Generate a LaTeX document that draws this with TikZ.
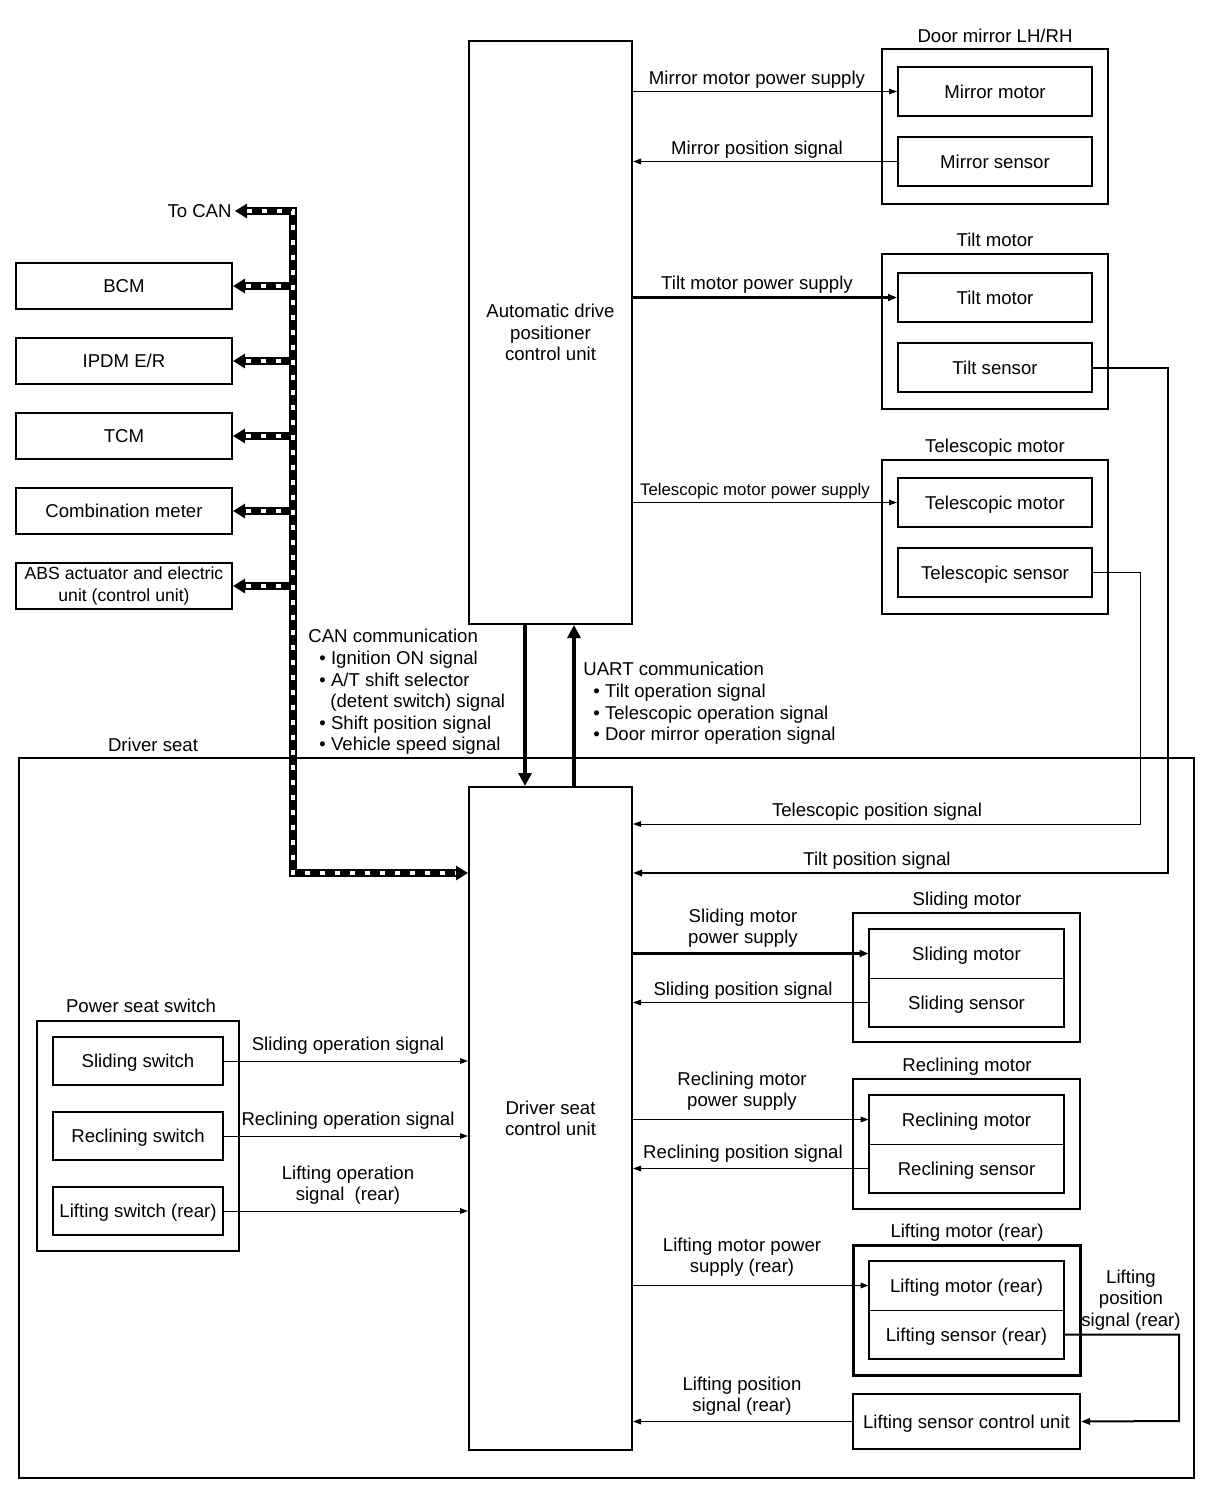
\documentclass[tikz,border=0pt]{standalone}
\usepackage{fontspec}
\setmainfont{Liberation Sans}
\usetikzlibrary{arrows.meta,fit,calc}
\begin{document}
\begin{tikzpicture}[x=0.5pt,y=-0.5pt,
  font=\fontsize{9.3}{10.8}\selectfont,
  box/.style={draw, line width=1pt, inner sep=0pt},
  cell/.style={inner sep=0pt},
  lbl/.style={inner sep=0pt, text height=6.7pt, text depth=0pt},
  mlbl/.style={inner sep=0pt, align=center},
  sig/.style={line width=0.5pt, -{Triangle[length=4pt,width=2.8pt]}},
  sigb/.style={line width=1pt, -{Triangle[length=4.5pt,width=3.2pt]}},
  pwr/.style={line width=1.5pt, -{Triangle[length=4.5pt,width=3.4pt]}},
  bold/.style={line width=2pt, -{Triangle[length=6.5pt,width=6.5pt]}},
  can/.style={line width=4pt, -{Triangle[length=6pt,width=7pt]},
    postaction={draw=white, line width=1.8pt, -, dash pattern=on 2.5pt off 5pt,
      shorten >=6pt, shorten <=6pt}},
  canb/.style={line width=4pt, {Triangle[length=6pt,width=7pt]}-{Triangle[length=6pt,width=7pt]},
    postaction={draw=white, line width=1.8pt, -, dash pattern=on 2.5pt off 5pt,
      shorten >=6pt, shorten <=6pt}}
]
\useasboundingbox (0,0) rectangle (1216,1510);

% ---------- upper control unit ----------
\node[box, fit={(469,41) (632,624)}, label={[mlbl]center:Automatic drive\\positioner\\control unit}] (adp) {};

% Door mirror
\node[box, fit={(882,49) (1108,204)}] (dmg) {};
\node[lbl] (dmgt) at (995,36) {Door mirror LH/RH};
\node[box, fit={(898,67) (1092,116)}, label={[lbl]center:Mirror motor}] (mm) {};
\node[box, fit={(898,137) (1092,186)}, label={[lbl]center:Mirror sensor}] (ms) {};

% Tilt
\node[box, fit={(882,254) (1108,409)}] (tmg) {};
\node[lbl] (tmgt) at (995,240) {Tilt motor};
\node[box, fit={(898,273) (1092,322)}, label={[lbl]center:Tilt motor}] (tm) {};
\node[box, fit={(898,343) (1092,392)}, label={[lbl]center:Tilt sensor}] (ts) {};

% Telescopic
\node[box, fit={(882,460) (1108,614)}] (teg) {};
\node[lbl] (tegt) at (995,446) {Telescopic motor};
\node[box, fit={(898,478) (1092,527)}, label={[lbl]center:Telescopic motor}] (tem) {};
\node[box, fit={(898,548) (1092,597)}, label={[lbl]center:Telescopic sensor}] (tes) {};

% CAN units
\node[box, fit={(16,263) (232,309)}, label={[lbl]center:BCM}] (bcm) {};
\node[box, fit={(16,338) (232,384)}, label={[lbl]center:IPDM E/R}] (ipdm) {};
\node[box, fit={(16,413) (232,459)}, label={[lbl]center:TCM}] (tcm) {};
\node[box, fit={(16,488) (232,534)}, label={[lbl]center:Combination meter}] (cmeter) {};
\node[box, fit={(16,563) (232,609)}, label={[mlbl, font=\fontsize{8.8}{10.6}\selectfont]center:ABS actuator and electric\\unit (control unit)}] (abs) {};
\node[lbl, anchor=east, inner xsep=1.5pt] (tocan) at (235,211) {To CAN};

% ---------- driver seat ----------
\draw[line width=0.6pt] (19,758) rectangle (1194,1478);
\node[lbl] (dslbl) at (153,745) {Driver seat};
\node[box, fit={(469,787) (632,1450)}, label={[mlbl]center:Driver seat\\control unit}] (dsc) {};

% Sliding motor
\node[box, fit={(853,913) (1080,1042)}] (smg) {};
\node[lbl] (smgt) at (967,899) {Sliding motor};
\node[cell, fit={(869,929) (1064,978)}, label={[lbl]center:Sliding motor}] (sm) {};
\node[cell, fit={(869,978) (1064,1027)}, label={[lbl]center:Sliding sensor}] (ss) {};
\draw[line width=1pt] (sm.north west) rectangle (ss.south east);
\draw[line width=0.5pt] (sm.south west) -- (sm.south east);

% Reclining motor
\node[box, fit={(853,1079) (1080,1209)}] (rmg) {};
\node[lbl] (rmgt) at (967,1065) {Reclining motor};
\node[cell, fit={(869,1095) (1064,1144)}, label={[lbl]center:Reclining motor}] (rm) {};
\node[cell, fit={(869,1144) (1064,1193)}, label={[lbl]center:Reclining sensor}] (rs) {};
\draw[line width=1pt] (rm.north west) rectangle (rs.south east);
\draw[line width=0.5pt] (rm.south west) -- (rm.south east);

% Lifting motor
\node[box, line width=1.5pt, fit={(853,1245) (1080,1375)}] (lmg) {};
\node[lbl] (lmgt) at (967,1231) {Lifting motor (rear)};
\node[cell, fit={(869,1261) (1064,1310)}, label={[lbl]center:Lifting motor (rear)}] (lm) {};
\node[cell, fit={(869,1310) (1064,1359)}, label={[lbl]center:Lifting sensor (rear)}] (ls) {};
\draw[line width=1pt] (lm.north west) rectangle (ls.south east);
\draw[line width=0.5pt] (lm.south west) -- (lm.south east);

\node[box, fit={(853,1394) (1080,1449)}, label={[lbl]center:Lifting sensor control unit}] (lscu) {};

% Power seat switch
\node[box, fit={(37,1021) (239,1251)}] (pss) {};
\node[lbl] (psst) at (141,1006) {Power seat switch};
\node[box, fit={(53,1037) (223,1085)}, label={[lbl]center:Sliding switch}] (sw1) {};
\node[box, fit={(53,1112) (223,1160)}, label={[lbl]center:Reclining switch}] (sw2) {};
\node[box, fit={(53,1187) (223,1235)}, label={[lbl]center:Lifting switch (rear)}] (sw3) {};

% ---------- coordinates ----------
\coordinate (canT) at (293,211);
\coordinate (canB) at (293,873);
\coordinate (tR) at (1168,873);
\coordinate (teR) at (1140,824);
\coordinate (lR) at (1179,1421);
\coordinate (dn) at (525,700);
\coordinate (up) at (574,700);

% ---------- connectors ----------
\draw[sig] (adp.east |- mm.west) -- (mm.west);
\draw[sig] (ms.west) -- (adp.east |- ms.west);
\draw[pwr] (adp.east |- tm.west) -- (tm.west);
\draw[sig] (adp.east |- tem.west) -- (tem.west);

\draw[sigb] (ts.east) -| (tR) -- (dsc.east |- tR);
\draw[sig] (tes.east) -| (teR) -- (dsc.east |- teR);

\draw[pwr] (dsc.east |- sm.west) -- (sm.west);
\draw[sig] (ss.west) -- (dsc.east |- ss.west);
\draw[sig] (dsc.east |- rm.west) -- (rm.west);
\draw[sig] (rs.west) -- (dsc.east |- rs.west);
\draw[sig] (dsc.east |- lm.west) -- (lm.west);
\draw[sigb] (ls.east) -| (lR) -- (lscu.east);
\draw[sig] (lscu.west) -- (dsc.east |- lscu.west);

\draw[sig] (sw1.east) -- (dsc.west |- sw1.east);
\draw[sig] (sw2.east) -- (dsc.west |- sw2.east);
\draw[sig] (sw3.east) -- (dsc.west |- sw3.east);

\draw[bold] (adp.south -| dn) -- (dsc.north -| dn);
\draw[bold] (dsc.north -| up) -- (adp.south -| up);

% CAN bus
\foreach \n in {bcm,ipdm,tcm,cmeter,abs}{
  \draw[can] (canT |- \n.east) -- (\n.east);
}
\draw[canb] (tocan.east) -- (canT) -- (canB) -- (dsc.west |- canB);

% ---------- labels ----------
\node[lbl] (l1) at (757,78) {Mirror motor power supply};
\node[lbl] (l2) at (757,148) {Mirror position signal};
\node[lbl] (l3) at (757,283) {Tilt motor power supply};
\node[lbl, font=\fontsize{8.4}{10}\selectfont, text height=6pt] (l4) at (755,489) {Telescopic motor power supply};
\node[lbl] (l5) at (877,810) {Telescopic position signal};
\node[lbl] (l6) at (877,859) {Tilt position signal};
\node[mlbl] (l7) at (743,928) {Sliding motor\\power supply};
\node[lbl] (l8) at (743,989) {Sliding position signal};
\node[mlbl] (l9) at (742,1091) {Reclining motor\\power supply};
\node[lbl] (l10) at (743,1152) {Reclining position signal};
\node[mlbl] (l11) at (742,1257) {Lifting motor power\\supply (rear)};
\node[mlbl] (l12) at (1131,1300) {Lifting\\position\\signal (rear)};
\node[mlbl] (l13) at (742,1396) {Lifting position\\signal (rear)};
\node[lbl] (l14) at (348,1044) {Sliding operation signal};
\node[lbl] (l15) at (348,1119) {Reclining operation signal};
\node[mlbl] (l16) at (348,1185) {Lifting operation\\signal\ \ (rear)};

\node[anchor=north west, align=left, inner sep=0pt] (canlbl) at (308,629)
  {CAN communication\\
   \hspace*{5.5pt}• Ignition ON signal\\
   \hspace*{5.5pt}• A/T shift selector\\
   \hspace*{11pt}(detent switch) signal\\
   \hspace*{5.5pt}• Shift position signal\\
   \hspace*{5.5pt}• Vehicle speed signal};
\node[anchor=north west, align=left, inner sep=0pt] (uartlbl) at (583,662)
  {UART communication\\
   \hspace*{5pt}• Tilt operation signal\\
   \hspace*{5pt}• Telescopic operation signal\\
   \hspace*{5pt}• Door mirror operation signal};
\end{tikzpicture}
\end{document}
